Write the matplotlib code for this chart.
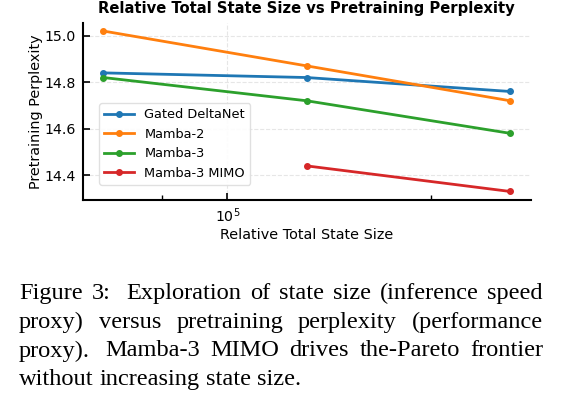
import numpy as np
import matplotlib
matplotlib.use('Agg')
import matplotlib.pyplot as plt
from matplotlib.ticker import FixedLocator, NullFormatter

# Data
state_size = [65536, 131072, 262144]
gdn_ppl = [14.84, 14.82, 14.76]
mamba2_ppl = [15.02, 14.87, 14.72]
mamba3_ppl = [14.82, 14.72, 14.58]
mimo_size = [131072, 262144]
mimo_ppl = [14.44, 14.33]

series_names = ['Gated DeltaNet', 'Mamba-2', 'Mamba-3', 'Mamba-3 MIMO']
series_colors = ['#1f77b4', '#ff7f0e', '#2ca02c', '#d62728']

caption_lines = ['Figure 3: Exploration of state size (inference speed',
                 'proxy) versus pretraining perplexity (performance',
                 'proxy). Mamba-3 MIMO drives the-Pareto frontier',
                 'without increasing state size.']

W, H = 562, 396
fig = plt.figure(figsize=(W/100, H/100), dpi=100)
ax = fig.add_axes([83/W, 1-199.5/H, (530.6-83)/W, (199.5-23)/H])

xs = [state_size, state_size, state_size, mimo_size]
ys = [gdn_ppl, mamba2_ppl, mamba3_ppl, mimo_ppl]
for x, y, name, c in zip(xs, ys, series_names, series_colors):
    ax.plot(x, y, '-o', color=c, lw=2, ms=4, label=name)

ax.set_xscale('log')
ax.xaxis.set_minor_locator(FixedLocator([8e4, 2e5]))
ax.xaxis.set_minor_formatter(NullFormatter())
ax.set_yticks([14.4, 14.6, 14.8, 15.0])
ax.grid(True, which='major', ls='--', color='#e6e6e6', lw=0.8)
ax.set_axisbelow(True)
for s in ['top', 'right']:
    ax.spines[s].set_visible(False)
for s in ['left', 'bottom']:
    ax.spines[s].set_linewidth(1.5)
ax.tick_params(which='major', direction='in', length=5, width=1.2,
               labelsize=10.2, pad=5)
ax.tick_params(which='minor', direction='in', length=3.5, width=1.0)

ax.set_title('Relative Total State Size vs Pretraining Perplexity',
             fontsize=10.6, fontweight='bold', pad=7)
ax.set_xlabel('Relative Total State Size', fontsize=10.4, labelpad=2)
ax.set_ylabel('Pretraining Perplexity', fontsize=10.4, labelpad=1.5)

ax.legend(loc='lower left', bbox_to_anchor=(0.036, 0.082), borderaxespad=0,
          fontsize=9.3, frameon=True, framealpha=0.9, edgecolor='#dddddd',
          handlelength=2.3, labelspacing=0.5)

# Justified caption, placed word by word (LaTeX-like spacing)
renderer = fig.canvas.get_renderer()
left_px, right_px = 19, 543
baselines = [299, 328, 356.5, 385]
cap_font = dict(family='Liberation Serif', fontsize=17.6, color='black')
sp = fig.text(0, 0, 'a a', **cap_font)
sp2 = fig.text(0, 0, 'aa', **cap_font)
space_w = sp.get_window_extent(renderer).width - sp2.get_window_extent(renderer).width
sp.remove()
sp2.remove()
for li, (line, base) in enumerate(zip(caption_lines, baselines)):
    words = line.split(' ')
    texts = [fig.text(0, 1 - base/H, w, va='baseline', ha='left', **cap_font)
             for w in words]
    widths = [t.get_window_extent(renderer).width for t in texts]
    natural = []
    stretch = []
    for w in words[:-1]:
        if w == '3:':
            natural.append(2.0 * space_w)
            stretch.append(1.5)
        elif w.endswith('.'):
            natural.append(1.4 * space_w)
            stretch.append(1.5)
        else:
            natural.append(space_w)
            stretch.append(1.0)
    if li < len(caption_lines) - 1:
        unit = (right_px - left_px - sum(widths) - sum(natural)) / sum(stretch)
    else:
        unit = 0
    x = left_px
    for i, t in enumerate(texts):
        t.set_x(x / W)
        x += widths[i]
        if i < len(natural):
            x += natural[i] + unit * stretch[i]

fig.savefig('out.png', dpi=100)
